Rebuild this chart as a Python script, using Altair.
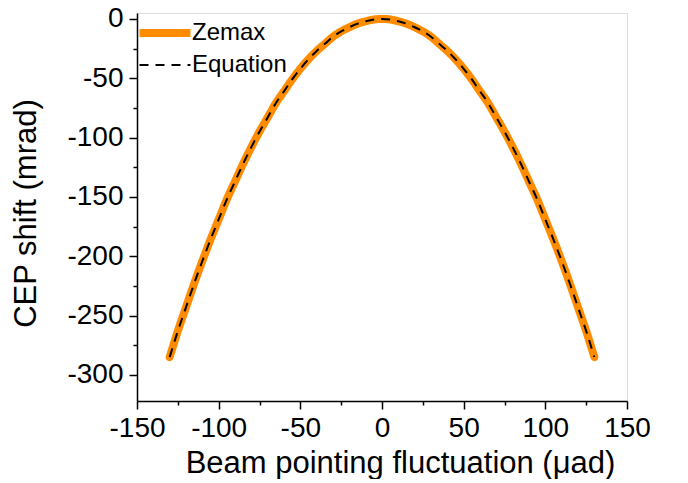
import altair as alt
import pandas as pd

x_vals = [-130, -125, -120, -115, -110, -105, -100, -95, -90, -85, -80, -75, -70, -65, -60,
          -55, -50, -45, -40, -35, -30, -25, -20, -15, -10, -5, 0,
          5, 10, 15, 20, 25, 30, 35, 40, 45, 50, 55, 60, 65, 70, 75, 80, 85, 90, 95,
          100, 105, 110, 115, 120, 125, 130]
zemax = [-285, -263, -243, -223, -204, -186, -169, -152, -137, -122, -108, -95, -83, -71, -61,
         -51, -42, -34, -27, -21, -15, -10.5, -7, -4, -2, -0.5, 0,
         -0.5, -2, -4, -7, -10.5, -15, -21, -27, -34, -42, -51, -61, -71, -83, -95, -108, -122,
         -137, -152, -169, -186, -204, -223, -243, -263, -285]
equation = list(zemax)
series = ["Zemax", "Equation"]

df = pd.concat([
    pd.DataFrame({"x": x_vals, "y": zemax, "s": "Zemax"}),
    pd.DataFrame({"x": x_vals, "y": equation, "s": "Equation"}),
])

FONT = "Liberation Sans"

xscale = alt.Scale(domain=[-150, 150], nice=False, zero=False)
yscale = alt.Scale(domain=[-322, 5], nice=False, zero=False)

common = dict(
    labelFontSize=28, titleFontSize=31, labelFont=FONT, titleFont=FONT,
    labelColor="black", titleColor="black", tickColor="black", domainColor="black",
    domainWidth=1.5, tickWidth=1.5, grid=False, labelFlush=False, titleFontWeight="normal",
    labelExpr="datum.value % 50 === 0 ? '' + datum.value : ''",
    tickSize={"condition": {"test": "datum.value % 50 !== 0", "value": 4}, "value": 8},
)

xaxis = alt.Axis(values=list(range(-150, 151, 25)), title="Beam pointing fluctuation (μad)",
                 labelPadding=5, titlePadding=6, titleX=263, **common)
yaxis = alt.Axis(values=list(range(-300, 1, 25)), title="CEP shift (mrad)",
                 labelPadding=6, titlePadding=24, titleY=200, **common)

color = alt.Color("s:N", scale=alt.Scale(domain=series, range=["#FF8C00", "black"]),
                  legend=alt.Legend(orient="none", legendX=9, legendY=1, title=None,
                                    labelFontSize=24, labelFont=FONT, labelColor="black",
                                    symbolType="M-1.7,0H1.7", symbolSize=900,
                                    rowPadding=0, labelOffset=8))
dash = alt.StrokeDash("s:N", scale=alt.Scale(domain=series, range=[[1, 0], [9, 7]]), legend=None)
sw = alt.StrokeWidth("s:N", scale=alt.Scale(domain=series, range=[8, 2]), legend=None)

base = alt.Chart(df).encode(
    x=alt.X("x:Q", scale=xscale, axis=xaxis),
    y=alt.Y("y:Q", scale=yscale, axis=yaxis),
    color=color, strokeDash=dash, strokeWidth=sw,
)

orange = base.transform_filter(alt.datum.s == "Zemax").mark_line(interpolate="monotone", strokeCap="round")
eq = base.transform_filter(alt.datum.s == "Equation").mark_line(interpolate="monotone")

chart = alt.layer(orange, eq).properties(
    width=490, height=388,
    autosize=alt.AutoSizeParams(type="none"),
    padding={"left": 129, "top": 5, "right": 45, "bottom": 78},
).configure_view(stroke="black", strokeWidth=1.5).configure(background="white")

chart.save("out.html", embed_options={"renderer": "svg", "actions": False})
